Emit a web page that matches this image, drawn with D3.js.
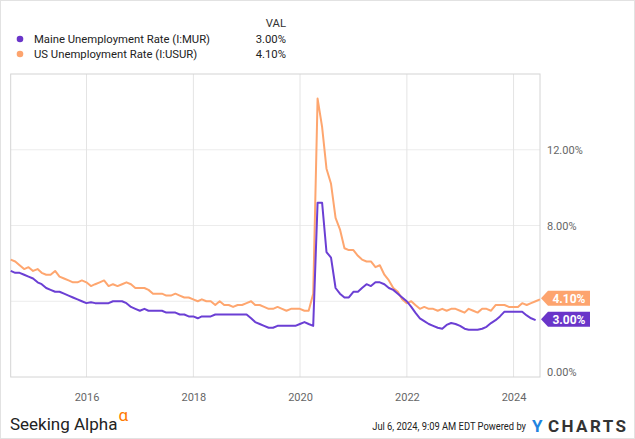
<!DOCTYPE html>
<html lang="en">
<head>
  <meta charset="UTF-8">
  <title>Maine vs US Unemployment Rate</title>
  <script src="https://cdn.jsdelivr.net/npm/d3@7"></script>
  <style>
    body, html {
      margin: 0;
      padding: 0;
      overflow: hidden;
      background: #fff;
    }
    text { font-family: Roboto, "Noto Sans", sans-serif; }
  </style>
</head>
<body>
  <script>
    // monthly values, Jul 2014 .. Jun 2024 (month-end dates)
    const startMonth = [2014, 6];

    const usRate = [
      6.2, 6.1, 5.9, 5.7, 5.8, 5.6,
      5.7, 5.5, 5.4, 5.4, 5.6, 5.3, 5.2, 5.1, 5.0, 5.0, 5.1, 5.0,
      4.8, 4.9, 5.0, 5.1, 4.8, 4.9, 4.8, 4.9, 5.0, 4.9, 4.7, 4.7,
      4.7, 4.6, 4.4, 4.4, 4.4, 4.3, 4.3, 4.4, 4.3, 4.2, 4.2, 4.1,
      4.0, 4.1, 4.0, 4.0, 3.8, 4.0, 3.8, 3.8, 3.7, 3.8, 3.8, 3.9,
      4.0, 3.8, 3.8, 3.7, 3.6, 3.6, 3.7, 3.6, 3.5, 3.6, 3.6, 3.6,
      3.5, 3.5, 4.4, 14.7, 13.2, 11.0, 10.2, 8.4, 7.8, 6.8, 6.7, 6.7,
      6.4, 6.2, 6.1, 6.1, 5.8, 5.9, 5.4, 5.1, 4.7, 4.5, 4.1, 3.9,
      4.0, 3.8, 3.6, 3.7, 3.6, 3.6, 3.5, 3.6, 3.5, 3.6, 3.6, 3.5,
      3.4, 3.6, 3.5, 3.4, 3.6, 3.6, 3.5, 3.8, 3.8, 3.8, 3.7, 3.7,
      3.7, 3.9, 3.8, 3.9, 4.0, 4.1
    ];

    const maineRate = [
      5.6, 5.5, 5.5, 5.4, 5.3, 5.2,
      5.0, 4.9, 4.7, 4.6, 4.5, 4.5, 4.4, 4.3, 4.2, 4.1, 4.0, 3.9,
      3.95, 3.9, 3.9, 3.9, 3.9, 4.0, 4.0, 4.0, 3.9, 3.7, 3.6, 3.5,
      3.6, 3.5, 3.5, 3.5, 3.5, 3.4, 3.4, 3.4, 3.3, 3.3, 3.2, 3.2,
      3.1, 3.2, 3.2, 3.2, 3.3, 3.3, 3.3, 3.3, 3.3, 3.3, 3.3, 3.3,
      3.1, 2.9, 2.8, 2.7, 2.6, 2.6, 2.7, 2.7, 2.7, 2.7, 2.7, 2.8,
      2.9, 2.8, 2.7, 9.2, 9.2, 6.6, 6.3, 4.7, 4.4, 4.2, 4.2, 4.5,
      4.5, 4.7, 4.9, 4.8, 5.0, 5.0, 4.9, 4.7, 4.6, 4.4, 4.2, 4.0,
      3.7, 3.4, 3.1, 2.95, 2.8, 2.7, 2.6, 2.55, 2.75, 2.85, 2.8, 2.7,
      2.55, 2.5, 2.5, 2.5, 2.55, 2.65, 2.85, 3.0, 3.2, 3.45, 3.45, 3.45,
      3.45, 3.45, 3.25, 3.1, 3.0
    ];

    const seriesNames = ["Maine Unemployment Rate (I:MUR)", "US Unemployment Rate (I:USUR)"];
    const seriesColors = ["#6b3fd4", "#fea66f"];
    const labelColors = ["#6a35c9", "#fda46e"];
    const lastValues = ["3.00%", "4.10%"];
    const yGrid = [4, 8, 12];
    const yTicks = [0, 8, 12];   // 4.00% sits under the end labels
    const xTickYears = [2016, 2018, 2020, 2022, 2024];

    const W = 635, H = 439;
    const plot = { left: 10.7, right: 540, top: 74, bottom: 377 };

    function monthEnd(i) {
      // last day of month i after the start
      return new Date(startMonth[0], startMonth[1] + i + 1, 0);
    }

    const svg = d3.select("body").append("svg")
      .attr("width", W)
      .attr("height", H);

    // outer frame
    svg.append("rect")
      .attr("x", 0.5).attr("y", 0.5)
      .attr("width", W - 1).attr("height", H - 1)
      .attr("fill", "#fff")
      .attr("stroke", "#e2e2e2");

    const x = d3.scaleTime()
      .domain([monthEnd(0), monthEnd(usRate.length - 1)])
      .range([plot.left, plot.right]);

    const y = d3.scaleLinear()
      .domain([0, 16])
      .range([plot.bottom, plot.top]);

    // grid
    const grid = svg.append("g");
    grid.selectAll(".hg")
      .data(yGrid)
      .join("line")
      .attr("x1", plot.left).attr("x2", plot.right)
      .attr("y1", d => y(d)).attr("y2", d => y(d))
      .attr("stroke", "#ececec").attr("stroke-width", 1);

    grid.selectAll(".vg")
      .data(xTickYears)
      .join("line")
      .attr("x1", d => x(new Date(d, 0, 1))).attr("x2", d => x(new Date(d, 0, 1)))
      .attr("y1", plot.top).attr("y2", plot.bottom)
      .attr("stroke", "#e4e4e4").attr("stroke-width", 1);

    // plot border
    svg.append("rect")
      .attr("x", plot.left).attr("y", plot.top)
      .attr("width", plot.right - plot.left)
      .attr("height", plot.bottom - plot.top)
      .attr("fill", "none")
      .attr("stroke", "#d4d4d4");

    // y axis labels
    const yAxis = d3.axisRight(y)
      .tickValues(yTicks)
      .tickSize(0)
      .tickPadding(7)
      .tickFormat(d => d3.format(".2f")(d) + "%");

    const yG = svg.append("g")
      .attr("transform", `translate(${plot.right},0)`)
      .call(yAxis)
      .call(g => g.select(".domain").remove())
      .call(g => g.selectAll("text")
        .attr("fill", "#666")
        .attr("font-size", "11px")
        .attr("font-family", "Roboto"));

    yG.selectAll(".tick").filter(d => d === 0)
      .select("text").attr("dy", "-0.13em");

    // x axis labels
    const xAxis = d3.axisBottom(x)
      .tickValues(xTickYears.map(d => new Date(d, 0, 1)))
      .tickSize(0)
      .tickPadding(16)
      .tickFormat(d3.timeFormat("%Y"));

    svg.append("g")
      .attr("transform", `translate(0,${plot.bottom})`)
      .call(xAxis)
      .call(g => g.select(".domain").remove())
      .call(g => g.selectAll("text")
        .attr("fill", "#666")
        .attr("font-size", "11px")
        .attr("font-family", "Roboto"));

    // lines
    const line = d3.line()
      .x((d, i) => x(monthEnd(i)))
      .y(d => y(d));

    [usRate, maineRate].forEach((vals, k) => {
      svg.append("path")
        .datum(vals)
        .attr("fill", "none")
        .attr("stroke", seriesColors[1 - k])
        .attr("stroke-width", 2)
        .attr("stroke-linejoin", "round")
        .attr("d", line);
    });

    // end labels
    const endData = [
      { v: maineRate[maineRate.length - 1], t: lastValues[0], c: labelColors[0] },
      { v: usRate[usRate.length - 1], t: lastValues[1], c: labelColors[1] }
    ];
    endData.forEach(d => {
      const cy = y(d.v) - 1;
      const g = svg.append("g").attr("transform", `translate(${plot.right + 1},${cy})`);
      g.append("path")
        .attr("d", "M0,0 L7,-7.5 L49,-7.5 L49,7.5 L7,7.5 Z")
        .attr("fill", d.c);
      g.append("text")
        .attr("x", 28).attr("y", 4.3)
        .attr("text-anchor", "middle")
        .attr("fill", "#fff")
        .attr("font-size", "12px")
        .attr("font-weight", "bold")
        .text(d.t);
    });

    // legend
    const legend = svg.append("g");
    legend.append("text")
      .attr("x", 286).attr("y", 27)
      .attr("text-anchor", "end")
      .attr("fill", "#333")
      .attr("font-size", "11.3px")
      .text("VAL");

    seriesNames.forEach((name, i) => {
      const ly = 39 + i * 15;
      legend.append("circle")
        .attr("cx", 20).attr("cy", ly)
        .attr("r", 3.3)
        .attr("fill", labelColors[i]);
      legend.append("text")
        .attr("x", 34).attr("y", ly + 4)
        .attr("fill", "#222")
        .attr("font-size", "11.3px")
        .text(name);
      legend.append("text")
        .attr("x", 286).attr("y", ly + 4)
        .attr("text-anchor", "end")
        .attr("fill", "#222")
        .attr("font-size", "11.3px")
        .text(lastValues[i]);
    });

    // footer
    const sa = svg.append("text")
      .attr("x", 10).attr("y", 430)
      .attr("fill", "#222")
      .attr("font-size", "17px")
      .attr("font-family", "'Open Sans', sans-serif");
    sa.append("tspan").text("Seeking Alpha");
    sa.append("tspan")
      .attr("dy", -9)
      .attr("dx", 1)
      .attr("fill", "#ff7a00")
      .attr("font-size", "17px")
      .text("α");

    // condensed look: squeeze the stamp horizontally to the reference width
    const stamp = svg.append("text")
      .attr("text-anchor", "end")
      .attr("fill", "#222")
      .attr("font-size", "11.5px")
      .text("Jul 6, 2024, 9:09 AM EDT Powered by");
    const natural = stamp.node().getComputedTextLength();
    stamp.attr("transform", `translate(526,430) scale(${Math.min(1, 154 / natural)},1)`);

    svg.append("text")
      .attr("x", 532).attr("y", 432)
      .attr("font-size", "17px")
      .attr("font-weight", "bold")
      .attr("fill", "#1f84e0")
      .text("Y");

    svg.append("text")
      .attr("x", 548).attr("y", 432)
      .attr("font-size", "17px")
      .attr("font-weight", "bold")
      .attr("fill", "#333")
      .attr("textLength", 78)
      .attr("lengthAdjust", "spacing")
      .text("CHARTS");
  </script>
</body>
</html>
